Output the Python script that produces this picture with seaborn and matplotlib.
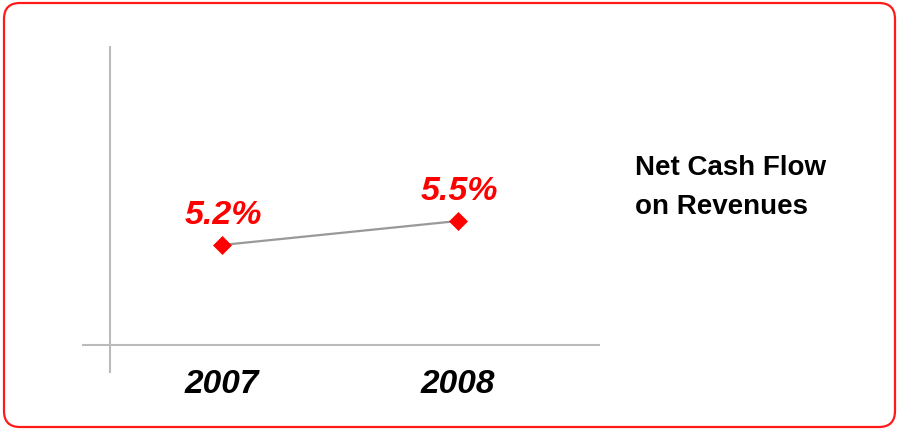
import matplotlib
matplotlib.use("Agg")
import matplotlib.pyplot as plt
from matplotlib.patches import FancyBboxPatch
from matplotlib.transforms import IdentityTransform
import seaborn as sns
import pandas as pd

years = ["2007", "2008"]
values = [5.2, 5.5]
value_labels = ["5.2%", "5.5%"]
title_lines = ["Net Cash Flow", "on Revenues"]

sns.set_theme(style="white")
plt.rcParams["font.family"] = ["Liberation Sans", "DejaVu Sans"]

W, H = 899, 430
fig = plt.figure(figsize=(W / 100, H / 100), dpi=100)
fig.patch.set_facecolor("white")

# rounded red frame (display pixel coordinates)
frame = FancyBboxPatch((4, 3), W - 8, H - 6,
                       boxstyle="round,pad=0,rounding_size=16",
                       transform=IdentityTransform(), facecolor="none",
                       edgecolor="#ff1a1a", linewidth=1.6)
fig.patches.append(frame)

# axes area in pixel coordinates: x 82..600, y(top) 46..373
left, right, top, bottom = 82, 600, 46, 373
ax = fig.add_axes([left / W, 1 - bottom / H, (right - left) / W, (bottom - top) / H])
ax.set_facecolor("none")

df = pd.DataFrame({"pos": range(len(years)), "value": values})
sns.lineplot(data=df, x="pos", y="value", ax=ax, color="#999999", linewidth=1.6,
             marker="D", markersize=9, markerfacecolor="#ff0000",
             markeredgecolor="#ff0000", markeredgewidth=0.5, zorder=3)

ax.set_xlim(-0.593, 1.602)
ax.set_ylim(3.6, 7.6875)

# axis lines
ax.axhline(3.95, color="#bbbbbb", linewidth=1.5, zorder=1)
ax.axvline(-0.4746, color="#bbbbbb", linewidth=1.5, zorder=1)

for sp in ax.spines.values():
    sp.set_visible(False)
ax.set_yticks([])
ax.set_xticks(list(df["pos"]))
ax.set_xticklabels(years, fontsize=24, fontweight="bold", fontstyle="italic", color="black")
ax.tick_params(axis="x", length=0, pad=-3)
ax.set_xlabel("")
ax.set_ylabel("")

for x, v, lab in zip(df["pos"], values, value_labels):
    ax.annotate(lab, (x, v), xytext=(1, 15), textcoords="offset points",
                ha="center", va="baseline", fontsize=24.5, fontweight="bold",
                fontstyle="italic", color="#ff0000")

fig.text(635 / W, 1 - 168 / H, title_lines[0], fontsize=20, fontweight="bold",
         color="black", ha="left", va="center")
fig.text(635 / W, 1 - 207 / H, title_lines[1], fontsize=20, fontweight="bold",
         color="black", ha="left", va="center")

fig.savefig("out.png", dpi=100, facecolor="white")
